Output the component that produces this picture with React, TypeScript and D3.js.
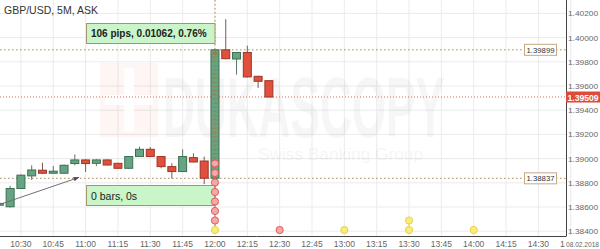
import React from 'react';
import * as d3 from 'd3';

const W = 600;
const H = 249;
const PLOT_R = 566;
const PLOT_B = 236;

const barTimes = ["10:20","10:25","10:30","10:35","10:40","10:45","10:50","10:55","11:00","11:05","11:10","11:15","11:20","11:25","11:30","11:35","11:40","11:45","11:50","11:55","12:00","12:05","12:10","12:15","12:20","12:25"];
const opens  = [1.38615,1.38602,1.38753,1.38857,1.38904,1.38879,1.38879,1.38959,1.38989,1.38961,1.38989,1.38961,1.38920,1.39017,1.39077,1.39017,1.38934,1.38893,1.39008,1.38980,1.38838,1.39899,1.39823,1.39877,1.39680,1.39644];
const highs  = [1.38640,1.38775,1.38870,1.38945,1.38967,1.38939,1.38950,1.39035,1.38995,1.38995,1.38995,1.38965,1.39020,1.39099,1.39095,1.39020,1.38961,1.39077,1.39044,1.39017,1.39899,1.40152,1.39880,1.39933,1.39685,1.39644];
const lows   = [1.38605,1.38595,1.38750,1.38824,1.38875,1.38875,1.38875,1.38945,1.38890,1.38939,1.38945,1.38915,1.38915,1.39015,1.39015,1.38920,1.38835,1.38890,1.38968,1.38789,1.38837,1.39820,1.39694,1.39670,1.39584,1.39509];
const closes = [1.38630,1.38753,1.38863,1.38906,1.38879,1.38896,1.38945,1.38989,1.38959,1.38989,1.38947,1.38920,1.39017,1.39077,1.39017,1.38934,1.38893,1.39017,1.38972,1.38838,1.39899,1.39826,1.39877,1.39675,1.39639,1.39509];

const xTickLabels = ["10:30","10:45","11:00","11:15","11:30","11:45","12:00","12:15","12:30","12:45","13:00","13:15","13:30","13:45","14:00","14:15","14:30","14:45"];
const yTickValues = [1.384,1.386,1.388,1.390,1.392,1.394,1.396,1.398,1.400,1.402];

const eventTimes = ["12:00","12:30","13:00","13:30","14:00"];
const eventStacks = [["y","r","r","r","r","r","r","r"],["r"],["y"],["y","y"],["y"]];

const title = "GBP/USD, 5M, ASK";
const measureHigh = 1.39899;
const measureLow = 1.38837;
const lastPrice = 1.39509;
const measureTime = "12:00";
const measureText = "106 pips, 0.01062, 0.76%";
const barsText = "0 bars, 0s";
const dateLabel = "08.02.2018";
const arrowFrom = { t: "10:20", p: 1.38620 };
const arrowTo = { t: "10:57", p: 1.38845 };

const toMin = (s: string) => { const [h, m] = s.split(':').map(Number); return h * 60 + m; };

const FONT = "'Liberation Sans', Arial, sans-serif";

export default function App() {
  const x = d3.scaleLinear().domain([620.3, 882.8]).range([0, PLOT_R]);
  const y = d3.scaleLinear().domain([1.384, 1.402]).range([231.2, 13.4]);
  const bw = 8;
  const fmt = d3.format(".5f");

  const GREEN = "#66a583", GREEN_S = "#3c6f52";
  const RED = "#e0503d", RED_S = "#9c3626";
  const BROWN = "#a88a5c";

  const mx = x(toMin(measureTime));
  const yHi = y(measureHigh), yLo = y(measureLow);

  const rungs: number[] = [];
  for (let yy = yHi + 3; yy < yLo; yy += 4.2) rungs.push(yy);

  return (
    <svg width={W} height={H} style={{ position: 'absolute', left: 0, top: 0, background: '#fff' }} fontFamily={FONT}>
      <rect x={0} y={0} width={W} height={H} fill="#fff" />
      {/* grid */}
      {xTickLabels.map((t, i) => (
        <line key={'gx' + i} x1={x(toMin(t))} x2={x(toMin(t))} y1={0} y2={PLOT_B} stroke="#ebebeb" strokeWidth={1} />
      ))}
      {yTickValues.map((v, i) => (
        <line key={'gy' + i} x1={0} x2={PLOT_R} y1={y(v)} y2={y(v)} stroke="#ebebeb" strokeWidth={1} />
      ))}
      {/* watermark */}
      <g>
        <rect x={100} y={63} width={58} height={74} fill="#e53935" opacity={0.05} />
        <rect x={124} y={68} width={10} height={64} fill="#fff" opacity={0.9} />
        <rect x={105} y={95} width={48} height={10} fill="#fff" opacity={0.9} />
        <text x={163} y={137} fontSize={86} fontWeight="bold" fill="#000" opacity={0.032} textLength={282} lengthAdjust="spacingAndGlyphs">DUKASCOPY</text>
        <text x={258} y={160} fontSize={16} fill="#000" opacity={0.035} textLength={165} lengthAdjust="spacingAndGlyphs">Swiss Banking Group</text>
      </g>
      {/* title */}
      <text x={4} y={14} fontSize={10.5} fill="#333">{title}</text>

      {/* measure horizontal dotted lines */}
      <line x1={0} x2={PLOT_R} y1={yHi} y2={yHi} stroke={BROWN} strokeWidth={1} strokeDasharray="1.5,2.5" />
      <line x1={0} x2={PLOT_R} y1={yLo} y2={yLo} stroke={BROWN} strokeWidth={1} strokeDasharray="1.5,2.5" />
      <line x1={mx} x2={mx} y1={0} y2={yHi} stroke={BROWN} strokeWidth={1} strokeDasharray="1.5,2.5" />
      {/* last price line */}
      <line x1={0} x2={PLOT_R} y1={y(lastPrice)} y2={y(lastPrice)} stroke="#e06a5a" strokeWidth={1} strokeDasharray="1,2" />

      {/* candles */}
      {barTimes.map((t, i) => {
        const cx = x(toMin(t));
        const up = closes[i] >= opens[i];
        const top = y(Math.max(opens[i], closes[i]));
        const bot = y(Math.min(opens[i], closes[i]));
        const s = up ? GREEN_S : RED_S;
        return (
          <g key={'c' + i}>
            <line x1={cx} x2={cx} y1={y(highs[i])} y2={y(lows[i])} stroke={up ? "#557a65" : "#7a5a50"} strokeWidth={1} />
            <rect x={cx - bw / 2} y={top} width={bw} height={Math.max(1, bot - top)} fill={up ? GREEN : RED} stroke={s} strokeWidth={1} />
          </g>
        );
      })}
      {/* ruler on measured bar */}
      {rungs.map((ry, i) => (
        <line key={'r' + i} x1={mx - 3.5} x2={mx + 3.5} y1={ry} y2={ry} stroke="#9a7a4a" strokeWidth={0.8} opacity={0.8} />
      ))}
      <line x1={mx} x2={mx} y1={yHi} y2={yLo} stroke="#9a7a4a" strokeWidth={0.8} strokeDasharray="1.5,2.5" />
      <path d={`M${mx - 3},${yHi + 5} L${mx},${yHi + 1} L${mx + 3},${yHi + 5} Z`} fill="#9a7a4a" />

      {/* measure boxes */}
      <rect x={86.5} y={23.5} width={mx - 86.5} height={20} fill="#c9f5c9" stroke="#a8956a" strokeWidth={1} />
      <text x={91} y={37} fontSize={10} fontWeight="bold" fill="#222">{measureText}</text>
      <rect x={86.5} y={185.5} width={mx - 86.5} height={20} fill="#c9f5c9" stroke="#a8956a" strokeWidth={1} />
      <text x={91} y={199.5} fontSize={10.5} fill="#222">{barsText}</text>

      {/* arrow */}
      {(() => {
        const x1 = x(toMin(arrowFrom.t)), y1 = y(arrowFrom.p);
        const x2 = x(toMin(arrowTo.t)), y2 = y(arrowTo.p);
        const ang = Math.atan2(y2 - y1, x2 - x1);
        const L = 6, a = 0.4;
        const p1 = [x2 - L * Math.cos(ang - a), y2 - L * Math.sin(ang - a)];
        const p2 = [x2 - L * Math.cos(ang + a), y2 - L * Math.sin(ang + a)];
        return (
          <g>
            <line x1={x1} y1={y1} x2={x2} y2={y2} stroke="#707070" strokeWidth={1} />
            <path d={`M${x2},${y2} L${p1[0]},${p1[1]} L${p2[0]},${p2[1]} Z`} fill="#505050" />
          </g>
        );
      })()}

      {/* events */}
      {eventTimes.map((t, i) => {
        const ex = x(toMin(t));
        const st = eventStacks[i];
        const topY = 230 - (st.length - 1) * 9.5;
        return (
          <g key={'e' + i}>
            {st.length > 1 && <line x1={ex} x2={ex} y1={topY} y2={230} stroke={st.some(s => s === 'r') ? "#e06060" : "#e8d54a"} strokeWidth={1} />}
            {st.map((s, j) => (
              <circle key={j} cx={ex} cy={230 - j * 9.5} r={3.6}
                fill={s === 'r' ? "#f4a8a8" : "#f8ec7c"} stroke={s === 'r' ? "#e05a5a" : "#e6d24a"} strokeWidth={1} />
            ))}
          </g>
        );
      })}

      {/* axes */}
      <line x1={PLOT_R + 0.5} x2={PLOT_R + 0.5} y1={0} y2={PLOT_B} stroke="#444" strokeWidth={1} />
      <line x1={0} x2={PLOT_R + 0.5} y1={PLOT_B + 0.5} y2={PLOT_B + 0.5} stroke="#444" strokeWidth={1} />
      {yTickValues.map((v, i) => (
        <text key={'yl' + i} x={568} y={y(v) + 3} fontSize={8} fill="#666" textLength={30} lengthAdjust="spacingAndGlyphs">{fmt(v)}</text>
      ))}
      {xTickLabels.map((t, i) => (
        <text key={'xl' + i} x={x(toMin(t))} y={247} fontSize={8.5} fill="#666" textAnchor="middle">{t}</text>
      ))}
      <rect x={565} y={238} width={35} height={11} fill="#fff" />
      <text x={566} y={247} fontSize={8} fill="#666" textLength={33} lengthAdjust="spacingAndGlyphs">{dateLabel}</text>

      {/* price labels */}
      <rect x={524.5} y={yHi - 5.5} width={32} height={11} fill="#fff" stroke="#c8a880" strokeWidth={1} />
      <text x={540.5} y={yHi + 3} fontSize={8} fill="#333" textAnchor="middle" textLength={28} lengthAdjust="spacingAndGlyphs">{fmt(measureHigh)}</text>
      <rect x={524.5} y={yLo - 5.5} width={32} height={11} fill="#fff" stroke="#c8a880" strokeWidth={1} />
      <text x={540.5} y={yLo + 3} fontSize={8} fill="#333" textAnchor="middle" textLength={28} lengthAdjust="spacingAndGlyphs">{fmt(measureLow)}</text>
      <rect x={566} y={y(lastPrice) - 5.5} width={34} height={11} fill="#dd4b3b" />
      <text x={583} y={y(lastPrice) + 3.5} fontSize={9} fontWeight="bold" fill="#fff" textAnchor="middle" textLength={31} lengthAdjust="spacingAndGlyphs">{fmt(lastPrice)}</text>
    </svg>
  );
}
